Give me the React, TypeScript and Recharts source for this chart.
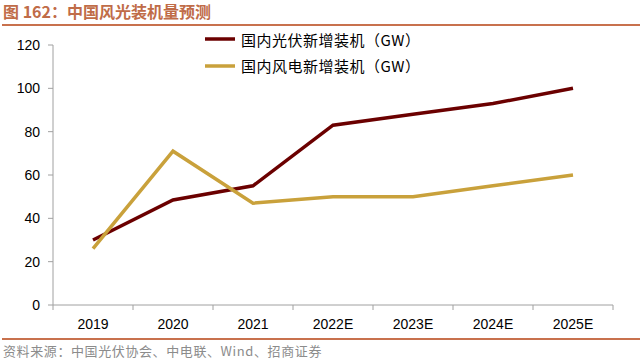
import { LineChart, Line, XAxis, YAxis, Legend } from 'recharts';

const years = ['2019', '2020', '2021', '2022E', '2023E', '2024E', '2025E'];
const solarAdds = [30, 48.5, 55, 83, 88, 93, 100];
const windAdds = [26, 71, 47, 50, 50, 55, 60];
const yTicks = [0, 20, 40, 60, 80, 100, 120];

const SOLAR = '#6b0000';
const WIND = '#c9a13b';
const AXIS = '#a0a0a0';
const CJK = '"Noto Sans CJK SC", "Liberation Sans", sans-serif';
const NUM = '"Liberation Sans", Arial, sans-serif';

const rows = years.map((year, i) => ({ year, solar: solarAdds[i], wind: windAdds[i] }));

const seriesInfo = [
  { key: 'solar', name: '国内光伏新增装机（GW）', color: SOLAR },
  { key: 'wind', name: '国内风电新增装机（GW）', color: WIND },
];

// x labels plus the short tick marks that sit on category boundaries
function YearTick(props: any) {
  const { x, y, payload, index, width, visibleTicksCount } = props;
  const band = width / visibleTicksCount;
  const axisY = y - 14;
  return (
    <g>
      <line x1={x - band / 2} x2={x - band / 2} y1={axisY} y2={axisY + 5} stroke={AXIS} />
      {index === visibleTicksCount - 1 && (
        <line x1={x + band / 2} x2={x + band / 2} y1={axisY} y2={axisY + 5} stroke={AXIS} />
      )}
      <text x={x} y={y} dy="0.71em" textAnchor="middle" fill="#000" fontSize={14} fontFamily={NUM}>
        {payload.value}
      </text>
    </g>
  );
}

function LegendBox() {
  return (
    <div style={{ fontFamily: CJK, fontSize: 15, color: '#000', letterSpacing: 0.5 }}>
      {seriesInfo.map((s) => (
        <div key={s.key} style={{ display: 'flex', alignItems: 'center', height: 26.5 }}>
          <svg width={38} height={6}>
            <line x1={2} x2={32} y1={3} y2={3} stroke={s.color} strokeWidth={3.5} />
          </svg>
          <span style={{ lineHeight: 1 }}>{s.name}</span>
        </div>
      ))}
    </div>
  );
}

export default function App() {
  return (
    <div style={{ position: 'absolute', left: 0, top: 0, width: 643, height: 360, background: '#fff' }}>
      <div
        style={{
          position: 'absolute', left: 3, top: 1, fontFamily: CJK, fontWeight: 700,
          fontSize: 16, color: '#c06c48', lineHeight: '20px', whiteSpace: 'pre',
        }}
      >
        图 162：中国风光装机量预测
      </div>
      <div style={{ position: 'absolute', left: 2, top: 24, width: 638, height: 2, background: '#c8714d' }} />

      <LineChart width={643} height={360} data={rows} margin={{ top: 45, right: 30, bottom: 25, left: 13 }}>
        <XAxis
          dataKey="year"
          height={30}
          stroke={AXIS}
          padding={{ left: 40, right: 40 }}
          tickLine={false}
          tickSize={0}
          tickMargin={14}
          interval={0}
          tick={<YearTick />}
        />
        <YAxis
          width={40}
          domain={[0, 120]}
          ticks={yTicks}
          stroke={AXIS}
          tickSize={5}
          tickMargin={8}
          tick={{ fill: '#000', fontSize: 14, fontFamily: NUM }}
        />
        <Legend
          layout="vertical"
          align="center"
          verticalAlign="middle"
          content={<LegendBox />}
          wrapperStyle={{ left: 203, top: 26, width: 260 }}
        />
        {seriesInfo.map((s) => (
          <Line
            key={s.key}
            dataKey={s.key}
            name={s.name}
            stroke={s.color}
            strokeWidth={3.5}
            dot={false}
            isAnimationActive={false}
          />
        ))}
      </LineChart>

      <div style={{ position: 'absolute', left: 2, top: 338, width: 638, height: 2, background: '#c8714d' }} />
      <div
        style={{
          position: 'absolute', left: 3, top: 342, fontFamily: CJK, fontSize: 13,
          color: '#8c8c8c', lineHeight: '18px', letterSpacing: 0.6, whiteSpace: 'pre',
        }}
      >
        资料来源：中国光伏协会、中电联、Wind、招商证券
      </div>
    </div>
  );
}
